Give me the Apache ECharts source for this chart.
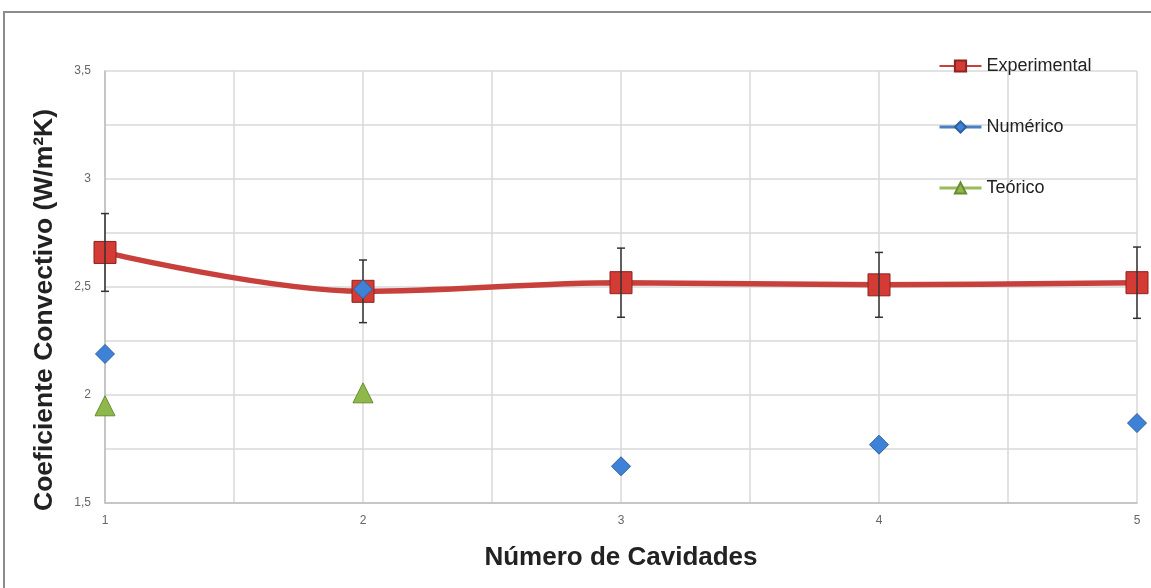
<!DOCTYPE html>
<html>
<head>
<meta charset="utf-8">
<script src="https://cdn.jsdelivr.net/npm/echarts@6/dist/echarts.min.js"></script>
<style>
  html, body { margin: 0; padding: 0; background: #fff; }
  #chart { width: 1151px; height: 588px; }
</style>
</head>
<body>
<div id="chart"></div>
<script>
// Número de cavidades (eixo x)
const cavidades = [1, 2, 3, 4, 5];
// Coeficiente convectivo experimental e incerteza (±)
const experimental = [2.66, 2.48, 2.52, 2.51, 2.52];
const incerteza = [0.18, 0.145, 0.16, 0.15, 0.165];
// Resultados numéricos
const numerico = [2.19, 2.49, 1.67, 1.77, 1.87];
// Resultados teóricos (apenas 1 e 2 cavidades)
const teoricoX = [1, 2];
const teorico = [1.95, 2.01];

const chart = echarts.init(document.getElementById('chart'));

const pairs = (xs, ys) => xs.map((x, i) => [x, ys[i]]);
const errData = cavidades.map((x, i) => [x, experimental[i] - incerteza[i], experimental[i] + incerteza[i]]);

const option = {
  animation: false,
  backgroundColor: '#fff',
  graphic: [{
    type: 'rect',
    shape: { x: 4, y: 12, width: 1160, height: 600 },
    style: { fill: 'none', stroke: '#8c8c8c', lineWidth: 2 },
    silent: true
  }],
  grid: { left: 105, right: 14, top: 71, bottom: 85 },
  legend: {
    orient: 'vertical',
    left: 933,
    top: 52,
    itemGap: 43,
    itemWidth: 42,
    itemHeight: 14,
    textStyle: { fontFamily: 'Liberation Sans, Arial', fontSize: 18, color: '#222' },
    data: [
      { name: 'Experimental' },
      { name: 'Numérico', lineStyle: { opacity: 1, width: 3, color: '#4a7fc1' } },
      { name: 'Teórico', lineStyle: { opacity: 1, width: 3, color: '#9bbb59' } }
    ]
  },
  xAxis: {
    type: 'value',
    min: 1, max: 5, interval: 0.5,
    name: 'Número de Cavidades',
    nameLocation: 'middle',
    nameGap: 42,
    nameTextStyle: { fontFamily: 'Liberation Sans, Arial', fontSize: 26, fontWeight: 'bold', color: '#222' },
    axisLine: { show: true, lineStyle: { color: '#bdbdbd', width: 1.5 } },
    axisTick: { show: false },
    axisLabel: {
      color: '#666', fontSize: 12, fontFamily: 'Liberation Sans, Arial', margin: 12,
      formatter: v => (Math.abs(v - Math.round(v)) < 1e-6 ? String(Math.round(v)) : '')
    },
    splitLine: { show: true, lineStyle: { color: '#d9d9d9', width: 1.5 } }
  },
  yAxis: {
    type: 'value',
    min: 1.5, max: 3.5, interval: 0.25,
    name: 'Coeficiente Convectivo (W/m²K)',
    nameLocation: 'middle',
    nameGap: 47,
    nameTextStyle: {
      fontFamily: 'Liberation Sans, Arial', fontSize: 26.5, fontWeight: 'bold', color: '#222',
      padding: [0, 46, 0, 0]
    },
    axisLine: { show: true, lineStyle: { color: '#bdbdbd', width: 1.5 } },
    axisTick: { show: false },
    axisLabel: {
      color: '#666', fontSize: 12, fontFamily: 'Liberation Sans, Arial', margin: 14,
      formatter: v => {
        const k = v * 2;
        if (Math.abs(k - Math.round(k)) > 1e-6) return '';
        return String(v).replace('.', ',');
      }
    },
    splitLine: { show: true, lineStyle: { color: '#d9d9d9', width: 1.5 } }
  },
  series: [
    {
      name: 'Experimental',
      type: 'line',
      data: pairs(cavidades, experimental),
      smooth: 0.35,
      symbol: 'rect',
      symbolSize: 22,
      z: 3,
      lineStyle: { color: '#c8403b', width: 5.5 },
      itemStyle: { color: '#d33b34', borderColor: '#8e2320', borderWidth: 1 }
    },
    {
      name: 'Experimental-erro',
      type: 'custom',
      data: errData,
      z: 4,
      renderItem: (params, api) => {
        const x = api.value(0);
        const lo = api.coord([x, api.value(1)]);
        const hi = api.coord([x, api.value(2)]);
        const w = 4;
        const st = { stroke: '#333', lineWidth: 1.5 };
        return {
          type: 'group',
          children: [
            { type: 'line', shape: { x1: hi[0], y1: hi[1], x2: lo[0], y2: lo[1] }, style: st },
            { type: 'line', shape: { x1: hi[0] - w, y1: hi[1], x2: hi[0] + w, y2: hi[1] }, style: st },
            { type: 'line', shape: { x1: lo[0] - w, y1: lo[1], x2: lo[0] + w, y2: lo[1] }, style: st }
          ]
        };
      }
    },
    {
      name: 'Numérico',
      type: 'line',
      data: pairs(cavidades, numerico),
      symbol: 'diamond',
      symbolSize: 19,
      z: 5,
      lineStyle: { opacity: 0, color: '#4a7fc1' },
      itemStyle: { color: '#3d82d6', borderColor: '#2f5f9e', borderWidth: 1 }
    },
    {
      name: 'Teórico',
      type: 'line',
      data: pairs(teoricoX, teorico),
      symbol: 'triangle',
      symbolSize: 20,
      z: 5,
      lineStyle: { opacity: 0, color: '#9bbb59' },
      itemStyle: { color: '#8fb84a', borderColor: '#6a8a32', borderWidth: 1 }
    }
  ]
};

chart.setOption(option);
</script>
</body>
</html>
